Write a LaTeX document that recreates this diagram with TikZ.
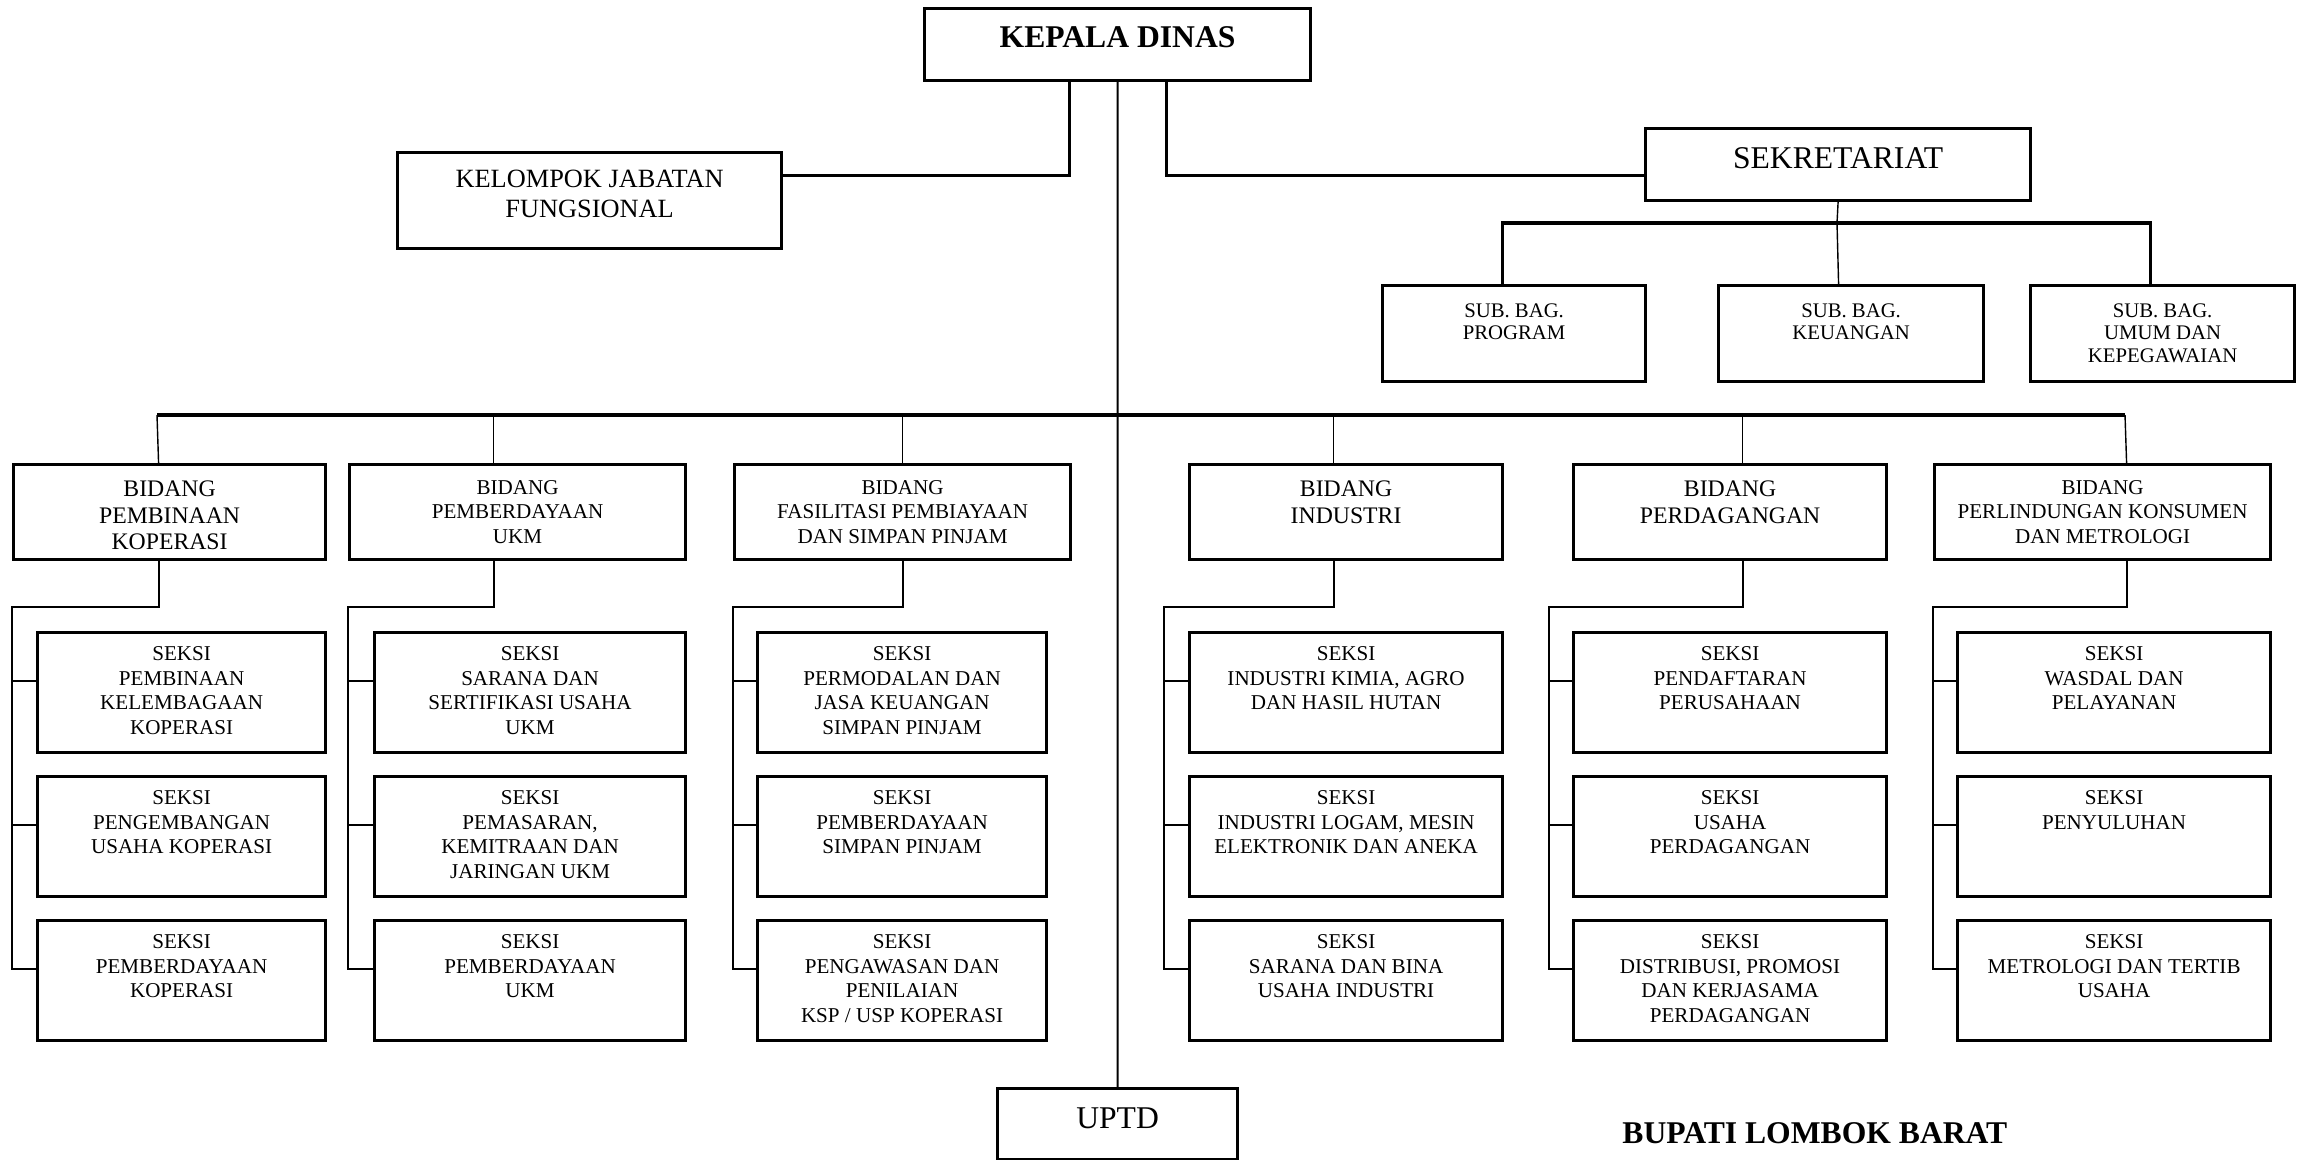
\documentclass[tikz,border=0pt]{standalone}
\usepackage{fontspec}
\setmainfont{Liberation Serif}
\usepackage{tikz}
\tikzset{
	orgbox/.style={rectangle, draw, line width=0.9pt, inner sep=0pt, anchor=north west},
	kepalabox/.style={orgbox, minimum width=3.86cm, minimum height=0.72cm, label={[anchor=north, inner sep=0pt, align=center, font=\bfseries\fontsize{9}{10.8}\selectfont, yshift=-0.19cm]north:{#1}}},
	bigbox/.style={orgbox, minimum height=0.72cm, label={[anchor=north, inner sep=0pt, align=center, font=\fontsize{9}{10.8}\selectfont, yshift=-0.2cm]north:{#1}}},
	kjfbox/.style={orgbox, minimum width=3.84cm, minimum height=0.96cm, label={[anchor=north, inner sep=0pt, align=center, font=\fontsize{7.5}{8.7}\selectfont, yshift=-0.18cm]north:{#1}}},
	subbox/.style={orgbox, minimum height=0.96cm, label={[anchor=north, inner sep=0pt, align=center, font=\fontsize{5.9}{6.4}\selectfont, yshift=-0.19cm]north:{#1}}},
	bidangbox/.style={orgbox, minimum height=0.95cm, label={[anchor=north, inner sep=0pt, align=center, font=\fontsize{6.75}{7.6}\selectfont, yshift=-0.17cm]north:{#1}}},
	bidangsmall/.style={orgbox, minimum height=0.95cm, label={[anchor=north, inner sep=0pt, align=center, font=\fontsize{6}{6.9}\selectfont, yshift=-0.17cm]north:{#1}}},
	seksibox/.style={orgbox, minimum height=1.2cm, label={[anchor=north, inner sep=0pt, align=center, font=\fontsize{6}{7}\selectfont, yshift=-0.15cm]north:{#1}}},
	thickline/.style={line width=0.9pt},
	thinline/.style={line width=0.4pt},
	midline/.style={line width=0.6pt}
}

\begin{document}
\begin{tikzpicture}
	\useasboundingbox (0,0) rectangle (22.98,-11.59);

	\node[kepalabox={KEPALA DINAS}] (kepala) at (9.23,-0.07) {};
	\node[kjfbox={KELOMPOK JABATAN\\FUNGSIONAL}] (kjf) at (3.96,-1.51) {};
	\node[bigbox={SEKRETARIAT}, minimum width=3.85cm] (sekretariat) at (16.44,-1.27) {};
	\node[subbox={SUB. BAG.\\PROGRAM}, minimum width=2.63cm] (subprog) at (13.81,-2.84) {};
	\node[subbox={SUB. BAG.\\KEUANGAN}, minimum width=2.65cm] (subkeu) at (17.17,-2.84) {};
	\node[subbox={SUB. BAG.\\UMUM DAN\\KEPEGAWAIAN}, minimum width=2.64cm] (subumum) at (20.29,-2.84) {};
	\node[bigbox={UPTD}, minimum width=2.4cm, minimum height=0.71cm] (uptd) at (9.96,-10.87) {};

	\node[bidangbox={BIDANG\\PEMBINAAN\\KOPERASI}, minimum width=3.12cm] (b1) at (0.12,-4.63) {};
	\node[bidangsmall={BIDANG\\PEMBERDAYAAN\\UKM}, minimum width=3.36cm] (b2) at (3.48,-4.63) {};
	\node[bidangsmall={BIDANG\\FASILITASI PEMBIAYAAN\\DAN SIMPAN PINJAM}, minimum width=3.36cm] (b3) at (7.33,-4.63) {};
	\node[bidangbox={BIDANG\\INDUSTRI}, minimum width=3.13cm] (b4) at (11.88,-4.63) {};
	\node[bidangbox={BIDANG\\PERDAGANGAN}, minimum width=3.13cm] (b5) at (15.72,-4.63) {};
	\node[bidangsmall={BIDANG\\PERLINDUNGAN KONSUMEN\\DAN METROLOGI}, minimum width=3.36cm] (b6) at (19.33,-4.63) {};

	\node[seksibox={SEKSI\\PEMBINAAN\\KELEMBAGAAN\\KOPERASI}, minimum width=2.88cm] (s11) at (0.36,-6.31) {};
	\node[seksibox={SEKSI\\PENGEMBANGAN\\USAHA KOPERASI}, minimum width=2.88cm] (s12) at (0.36,-7.75) {};
	\node[seksibox={SEKSI\\PEMBERDAYAAN\\KOPERASI}, minimum width=2.88cm] (s13) at (0.36,-9.19) {};

	\node[seksibox={SEKSI\\SARANA DAN\\SERTIFIKASI USAHA\\UKM}, minimum width=3.11cm] (s21) at (3.73,-6.31) {};
	\node[seksibox={SEKSI\\PEMASARAN,\\KEMITRAAN DAN\\JARINGAN UKM}, minimum width=3.11cm] (s22) at (3.73,-7.75) {};
	\node[seksibox={SEKSI\\PEMBERDAYAAN\\UKM}, minimum width=3.11cm] (s23) at (3.73,-9.19) {};

	\node[seksibox={SEKSI\\PERMODALAN DAN\\JASA KEUANGAN\\SIMPAN PINJAM}, minimum width=2.89cm] (s31) at (7.56,-6.31) {};
	\node[seksibox={SEKSI\\PEMBERDAYAAN\\SIMPAN PINJAM}, minimum width=2.89cm] (s32) at (7.56,-7.75) {};
	\node[seksibox={SEKSI\\PENGAWASAN DAN\\PENILAIAN\\KSP / USP KOPERASI}, minimum width=2.89cm] (s33) at (7.56,-9.19) {};

	\node[seksibox={SEKSI\\INDUSTRI KIMIA, AGRO\\DAN HASIL HUTAN}, minimum width=3.13cm] (s41) at (11.88,-6.31) {};
	\node[seksibox={SEKSI\\INDUSTRI LOGAM, MESIN\\ELEKTRONIK DAN ANEKA}, minimum width=3.13cm] (s42) at (11.88,-7.75) {};
	\node[seksibox={SEKSI\\SARANA DAN BINA\\USAHA INDUSTRI}, minimum width=3.13cm] (s43) at (11.88,-9.19) {};

	\node[seksibox={SEKSI\\PENDAFTARAN\\PERUSAHAAN}, minimum width=3.13cm] (s51) at (15.72,-6.31) {};
	\node[seksibox={SEKSI\\USAHA\\PERDAGANGAN}, minimum width=3.13cm] (s52) at (15.72,-7.75) {};
	\node[seksibox={SEKSI\\DISTRIBUSI, PROMOSI\\DAN KERJASAMA\\PERDAGANGAN}, minimum width=3.13cm] (s53) at (15.72,-9.19) {};

	\node[seksibox={SEKSI\\WASDAL DAN\\PELAYANAN}, minimum width=3.13cm] (s61) at (19.56,-6.31) {};
	\node[seksibox={SEKSI\\PENYULUHAN}, minimum width=3.13cm] (s62) at (19.56,-7.75) {};
	\node[seksibox={SEKSI\\METROLOGI DAN TERTIB\\USAHA}, minimum width=3.13cm] (s63) at (19.56,-9.19) {};

	\node[anchor=base east, font=\bfseries\fontsize{9}{10.8}\selectfont, inner sep=0pt] (bupati) at (20.08,-11.43) {BUPATI LOMBOK BARAT};

	\coordinate (sekbar) at (18.37,-2.23);
	\coordinate (busl) at (1.57,-4.15);
	\coordinate (busr) at (21.25,-4.15);
	\coordinate (t1) at (0.12,-6.07);
	\coordinate (t2) at (3.48,-6.07);
	\coordinate (t3) at (7.33,-6.07);
	\coordinate (t4) at (11.64,-6.07);
	\coordinate (t5) at (15.49,-6.07);
	\coordinate (t6) at (19.33,-6.07);

	\draw[thickline] ([xshift=-0.48cm]kepala.south) |- ([yshift=0.25cm]kjf.east);
	\draw[thickline] ([xshift=0.49cm]kepala.south) |- ([yshift=-0.11cm]sekretariat.west);
	\draw[midline] (kepala.south) -- (uptd.north);

	\draw[thinline] (sekretariat.south) -- (sekbar) -- ([xshift=-0.125cm]subkeu.north);
	\draw[thickline] ([xshift=-0.115cm]subprog.north) |- (sekbar) -| ([xshift=-0.12cm]subumum.north);

	\draw[thickline] (busl) -- (busr);
	\draw[thinline] ([xshift=-0.11cm]b1.north) -- (busl);
	\draw[thinline] ([xshift=-0.24cm]b2.north) -- ([xshift=-0.24cm]b2.north |- busl);
	\draw[thinline] (b3.north) -- (b3.north |- busl);
	\draw[thinline] ([xshift=-0.125cm]b4.north) -- ([xshift=-0.125cm]b4.north |- busl);
	\draw[thinline] ([xshift=0.125cm]b5.north) -- ([xshift=0.125cm]b5.north |- busl);
	\draw[thinline] ([xshift=0.24cm]b6.north) -- (busr);

	\draw[midline] ([xshift=-0.11cm]b1.south) |- (t1) |- ([yshift=0.12cm]s13.west);
	\draw[midline] ([yshift=0.12cm]s11.west) -- ([yshift=0.12cm]s11.west -| t1);
	\draw[midline] ([yshift=0.12cm]s12.west) -- ([yshift=0.12cm]s12.west -| t1);

	\draw[midline] ([xshift=-0.24cm]b2.south) |- (t2) |- ([yshift=0.12cm]s23.west);
	\draw[midline] ([yshift=0.12cm]s21.west) -- ([yshift=0.12cm]s21.west -| t2);
	\draw[midline] ([yshift=0.12cm]s22.west) -- ([yshift=0.12cm]s22.west -| t2);

	\draw[midline] (b3.south) |- (t3) |- ([yshift=0.12cm]s33.west);
	\draw[midline] ([yshift=0.12cm]s31.west) -- ([yshift=0.12cm]s31.west -| t3);
	\draw[midline] ([yshift=0.12cm]s32.west) -- ([yshift=0.12cm]s32.west -| t3);

	\draw[midline] ([xshift=-0.125cm]b4.south) |- (t4) |- ([yshift=0.12cm]s43.west);
	\draw[midline] ([yshift=0.12cm]s41.west) -- ([yshift=0.12cm]s41.west -| t4);
	\draw[midline] ([yshift=0.12cm]s42.west) -- ([yshift=0.12cm]s42.west -| t4);

	\draw[midline] ([xshift=0.125cm]b5.south) |- (t5) |- ([yshift=0.12cm]s53.west);
	\draw[midline] ([yshift=0.12cm]s51.west) -- ([yshift=0.12cm]s51.west -| t5);
	\draw[midline] ([yshift=0.12cm]s52.west) -- ([yshift=0.12cm]s52.west -| t5);

	\draw[midline] ([xshift=0.24cm]b6.south) |- (t6) |- ([yshift=0.12cm]s63.west);
	\draw[midline] ([yshift=0.12cm]s61.west) -- ([yshift=0.12cm]s61.west -| t6);
	\draw[midline] ([yshift=0.12cm]s62.west) -- ([yshift=0.12cm]s62.west -| t6);
\end{tikzpicture}
\end{document}
